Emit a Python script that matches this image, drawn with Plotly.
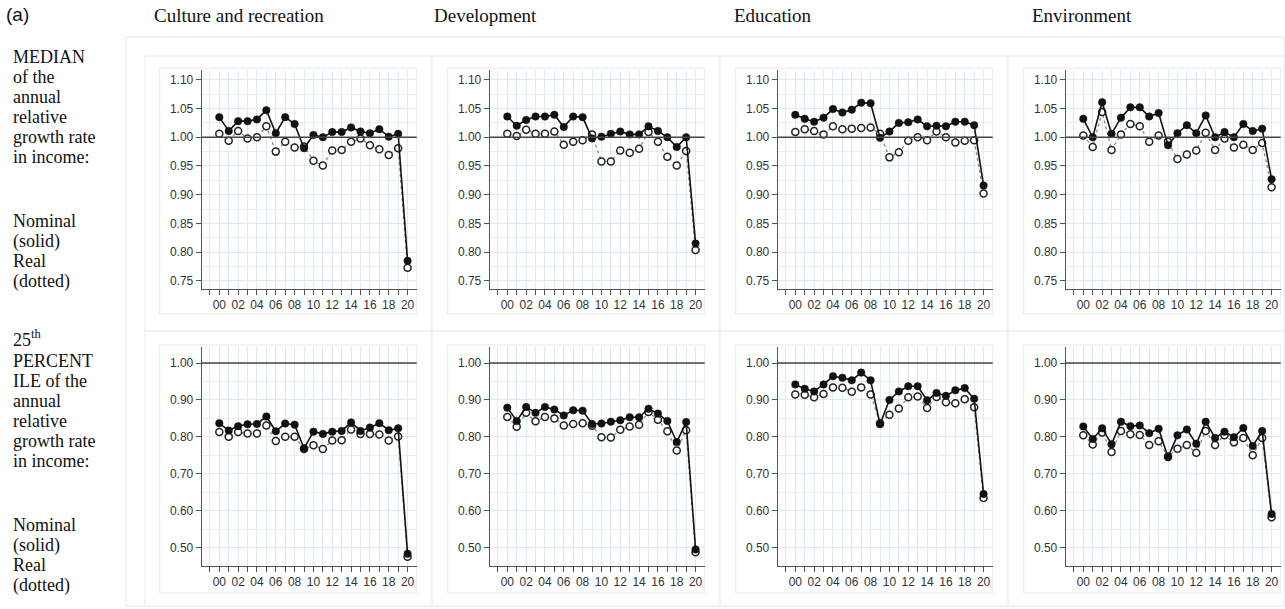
import plotly.graph_objects as go

# ---- data -------------------------------------------------------------
years = list(range(2000, 2021))
label_years = list(range(2000, 2021, 2))
year_labels = [f"{y % 100:02d}" for y in label_years]

sectors = ["Culture and recreation", "Development", "Education", "Environment"]

# median annual relative growth rate in income
culture_med_nom = [1.035, 1.011, 1.028, 1.028, 1.031, 1.047, 1.007, 1.035, 1.023, 0.981, 1.004,
                   1.000, 1.009, 1.009, 1.017, 1.010, 1.007, 1.014, 1.001, 1.006, 0.785]
culture_med_real = [1.006, 0.994, 1.011, 0.998, 1.000, 1.019, 0.975, 0.992, 0.982, 0.984, 0.959,
                    0.951, 0.977, 0.978, 0.992, 0.998, 0.986, 0.979, 0.969, 0.981, 0.773]
dev_med_nom = [1.036, 1.020, 1.030, 1.036, 1.036, 1.039, 1.018, 1.036, 1.035, 0.998, 1.001,
               1.006, 1.010, 1.005, 1.005, 1.019, 1.011, 1.000, 0.983, 1.000, 0.815]
dev_med_real = [1.006, 1.002, 1.013, 1.006, 1.006, 1.010, 0.987, 0.992, 0.995, 1.005, 0.958,
                0.958, 0.977, 0.973, 0.980, 1.009, 0.992, 0.966, 0.951, 0.976, 0.804]
edu_med_nom = [1.039, 1.032, 1.027, 1.034, 1.049, 1.043, 1.048, 1.060, 1.059, 0.999, 1.010,
               1.025, 1.026, 1.031, 1.019, 1.020, 1.019, 1.027, 1.027, 1.021, 0.916]
edu_med_real = [1.009, 1.014, 1.011, 1.005, 1.019, 1.014, 1.015, 1.016, 1.017, 1.006, 0.965,
                0.974, 0.994, 1.000, 0.995, 1.010, 1.000, 0.991, 0.994, 0.995, 0.902]
env_med_nom = [1.032, 1.000, 1.061, 1.006, 1.034, 1.052, 1.052, 1.036, 1.042, 0.986, 1.007,
               1.021, 1.007, 1.038, 1.000, 1.009, 1.000, 1.023, 1.011, 1.015, 0.927]
env_med_real = [1.003, 0.983, 1.044, 0.978, 1.005, 1.023, 1.019, 0.992, 1.003, 0.992, 0.962,
                0.970, 0.977, 1.008, 0.978, 0.998, 0.982, 0.987, 0.978, 0.990, 0.913]

# 25th percentile of the annual relative growth rate in income
culture_p25_nom = [0.837, 0.817, 0.829, 0.834, 0.835, 0.855, 0.815, 0.836, 0.833, 0.769, 0.814,
                   0.808, 0.814, 0.816, 0.839, 0.816, 0.825, 0.837, 0.818, 0.823, 0.483]
culture_p25_real = [0.813, 0.800, 0.813, 0.809, 0.809, 0.831, 0.789, 0.800, 0.800, 0.767, 0.777,
                    0.767, 0.790, 0.791, 0.820, 0.808, 0.808, 0.806, 0.790, 0.801, 0.475]
dev_p25_nom = [0.879, 0.843, 0.881, 0.865, 0.881, 0.874, 0.858, 0.872, 0.871, 0.835, 0.836,
               0.841, 0.845, 0.853, 0.853, 0.876, 0.863, 0.843, 0.786, 0.840, 0.495]
dev_p25_real = [0.854, 0.827, 0.865, 0.842, 0.854, 0.850, 0.831, 0.835, 0.837, 0.830, 0.799,
                0.798, 0.819, 0.828, 0.833, 0.867, 0.846, 0.815, 0.763, 0.818, 0.487]
edu_p25_nom = [0.942, 0.930, 0.923, 0.942, 0.964, 0.960, 0.953, 0.974, 0.953, 0.834, 0.900,
               0.923, 0.937, 0.937, 0.899, 0.919, 0.911, 0.926, 0.932, 0.903, 0.645]
edu_p25_real = [0.915, 0.914, 0.907, 0.916, 0.934, 0.933, 0.922, 0.934, 0.915, 0.837, 0.860,
                0.877, 0.907, 0.909, 0.878, 0.908, 0.894, 0.891, 0.902, 0.880, 0.634]
env_p25_nom = [0.828, 0.794, 0.823, 0.780, 0.841, 0.829, 0.831, 0.810, 0.822, 0.745, 0.804,
               0.820, 0.781, 0.841, 0.797, 0.814, 0.799, 0.824, 0.775, 0.816, 0.591]
env_p25_real = [0.804, 0.779, 0.812, 0.759, 0.816, 0.807, 0.805, 0.778, 0.788, 0.747, 0.768,
                0.778, 0.757, 0.816, 0.778, 0.804, 0.785, 0.797, 0.750, 0.797, 0.582]

median_nominal = [culture_med_nom, dev_med_nom, edu_med_nom, env_med_nom]
median_real = [culture_med_real, dev_med_real, edu_med_real, env_med_real]
p25_nominal = [culture_p25_nom, dev_p25_nom, edu_p25_nom, env_p25_nom]
p25_real = [culture_p25_real, dev_p25_real, edu_p25_real, env_p25_real]

median_ticks = [0.75, 0.80, 0.85, 0.90, 0.95, 1.00, 1.05, 1.10]
p25_ticks = [0.50, 0.60, 0.70, 0.80, 0.90, 1.00]

row_text_median = ["MEDIAN", "of the", "annual", "relative", "growth rate", "in income:",
                   "Nominal", "(solid)", "Real", "(dotted)"]
row_text_p25 = ["25<sup>th</sup>", "PERCENT", "ILE of the", "annual", "relative", "growth rate",
                "in income:", "Nominal", "(solid)", "Real", "(dotted)"]

# ---- layout geometry (pixels) ----------------------------------------
W, H = 1285, 609
SERIF = "Liberation Serif, Times New Roman, serif"
SANS = "Liberation Sans, Arial, sans-serif"


def fx(p):
    return p / W


def fy(p):
    return 1 - p / H


axis_left = [201.7, 489.7, 777.7, 1065.7]
plot_w = 215
rows_px = [(70, 289), (347, 566)]
row_ranges = [(0.736, 1.117), (0.450, 1.0434)]
row_ticks = [median_ticks, p25_ticks]
row_minor = [0.025, 0.05]
x_range = [1998.13, 2020.97]

fig = go.Figure()
layout = dict(
    width=W, height=H, margin=dict(l=0, r=0, t=0, b=0),
    paper_bgcolor="white", plot_bgcolor="rgba(0,0,0,0)",
    showlegend=False,
)
shapes = []
annotations = []

# outer frame, facet cells and inner panel boxes
shapes.append(dict(type="rect", xref="paper", yref="paper", layer="below",
                   x0=fx(126), x1=fx(1284), y0=fy(606), y1=fy(37),
                   line=dict(color="#dde7ee", width=1), fillcolor="white"))
col_edges = [145, 432, 720, 1008, 1284]
row_edges = [(56, 331), (331, 606)]
for c in range(4):
    for r in range(2):
        shapes.append(dict(type="rect", xref="paper", yref="paper", layer="below",
                           x0=fx(col_edges[c]), x1=fx(col_edges[c + 1]),
                           y0=fy(row_edges[r][1]), y1=fy(row_edges[r][0]),
                           line=dict(color="#e4ecf1", width=1), fillcolor="white"))
inner_rows = [(68, 314), (345, 593)]
for c in range(4):
    for r in range(2):
        shapes.append(dict(type="rect", xref="paper", yref="paper", layer="below",
                           x0=fx(axis_left[c] - 42), x1=fx(axis_left[c] + plot_w),
                           y0=fy(inner_rows[r][1]), y1=fy(inner_rows[r][0]),
                           line=dict(color="#e3eaef", width=1), fillcolor="white"))

series = [(median_nominal, median_real), (p25_nominal, p25_real)]
for r in range(2):
    nom_rows, real_rows = series[r]
    for c in range(4):
        k = r * 4 + c + 1
        xa = "x" if k == 1 else f"x{k}"
        ya = "y" if k == 1 else f"y{k}"
        xkey = "xaxis" if k == 1 else f"xaxis{k}"
        ykey = "yaxis" if k == 1 else f"yaxis{k}"

        # real (dotted, open circles)
        fig.add_trace(go.Scatter(
            x=years, y=real_rows[c], xaxis=xa, yaxis=ya, mode="lines+markers",
            line=dict(color="#8a8a8a", width=1.3, dash="dot"),
            marker=dict(symbol="circle", size=7, color="white",
                        line=dict(color="#222222", width=1.5)),
            cliponaxis=False))
        # nominal (solid, filled circles)
        fig.add_trace(go.Scatter(
            x=years, y=nom_rows[c], xaxis=xa, yaxis=ya, mode="lines+markers",
            line=dict(color="#111111", width=1.6),
            marker=dict(symbol="circle", size=7.5, color="#111111",
                        line=dict(color="#111111", width=0.5)),
            cliponaxis=False))

        top_px, bot_px = rows_px[r]
        layout[xkey] = dict(
            domain=[fx(axis_left[c]), fx(axis_left[c] + plot_w)], anchor=ya,
            range=x_range, tickmode="array", tickvals=label_years, ticktext=year_labels,
            ticks="outside", ticklen=5, tickcolor="#555555", tickwidth=1,
            showline=True, linecolor="#555555", linewidth=1,
            showgrid=True, gridcolor="#dfe9f1", gridwidth=1,
            minor=dict(dtick=1, tick0=2000, showgrid=True, gridcolor="#dfe9f1",
                       ticks="outside", ticklen=5, tickcolor="#555555", tickwidth=1),
            zeroline=False, fixedrange=True,
            tickfont=dict(family=SANS, size=12, color="#333333"),
        )
        layout[ykey] = dict(
            domain=[fy(bot_px), fy(top_px)], anchor=xa,
            range=list(row_ranges[r]), tickmode="array", tickvals=row_ticks[r],
            tickformat=".2f",
            ticks="outside", ticklen=5, tickcolor="#555555", tickwidth=1,
            showline=True, linecolor="#555555", linewidth=1,
            showgrid=True, gridcolor="#dfe9f1", gridwidth=1,
            minor=dict(dtick=row_minor[r], tick0=0, showgrid=True,
                       gridcolor="#e6eef4", ticks=""),
            zeroline=False, fixedrange=True,
            tickfont=dict(family=SANS, size=12, color="#333333"),
        )
        # reference line at 1.00
        shapes.append(dict(type="line", xref=f"{xa} domain", yref=ya,
                           x0=0, x1=1, y0=1.0, y1=1.0,
                           line=dict(color="#444444", width=1.6)))

# column headers
header_x = [152, 432, 732, 1030]
for name, hx in zip(sectors, header_x):
    annotations.append(dict(text=name, xref="paper", yref="paper", x=fx(hx), y=fy(16),
                            xanchor="left", yanchor="middle", showarrow=False,
                            font=dict(family=SERIF, size=19, color="#111111")))
annotations.append(dict(text="(a)", xref="paper", yref="paper", x=fx(4), y=fy(15),
                        xanchor="left", yanchor="middle", showarrow=False,
                        font=dict(family=SANS, size=19, color="#111111")))

# row descriptions
median_y = [57, 77, 97, 117, 137, 157, 221, 241, 261, 281]
p25_y = [338, 361, 381, 401, 421, 441, 461, 525, 545, 565, 585]
for txt, yy in list(zip(row_text_median, median_y)) + list(zip(row_text_p25, p25_y)):
    annotations.append(dict(text=txt, xref="paper", yref="paper", x=fx(11), y=fy(yy),
                            xanchor="left", yanchor="middle", showarrow=False,
                            font=dict(family=SERIF, size=18, color="#111111")))

layout["shapes"] = shapes
layout["annotations"] = annotations
fig.update_layout(**layout)
fig.write_html("out.html")
